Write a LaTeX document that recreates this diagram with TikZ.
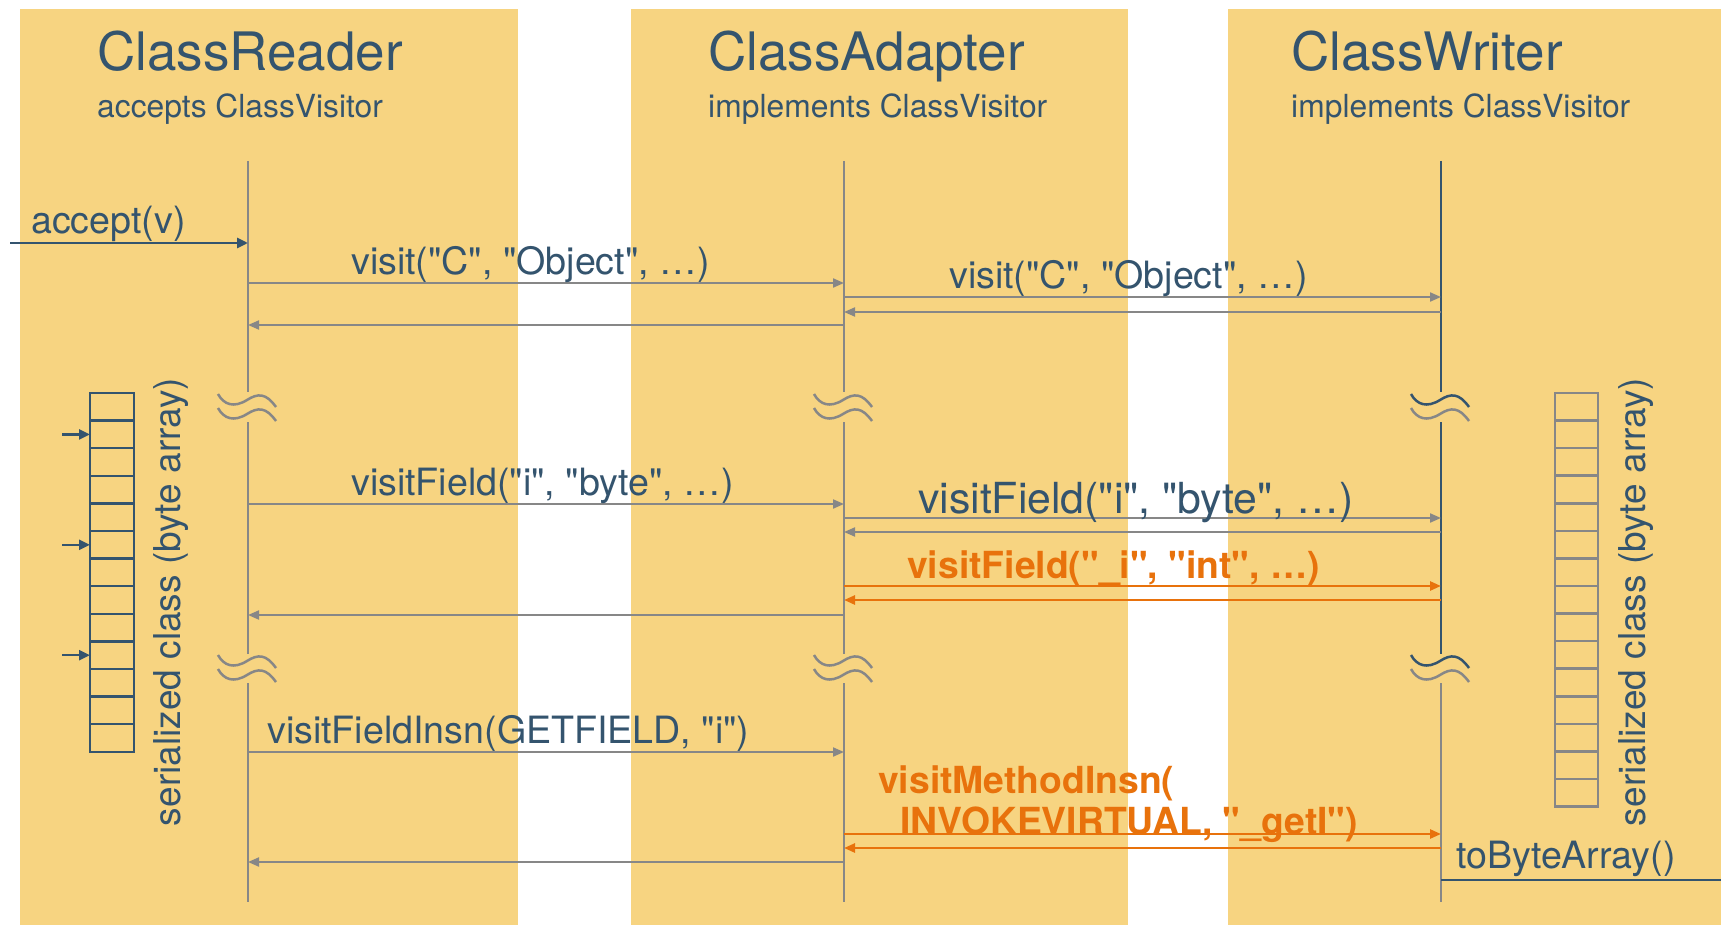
\documentclass[tikz,border=0pt]{standalone}
\usepackage{fontspec}
\setmainfont{TeX Gyre Heros}[Ligatures=TeXOff]
\usetikzlibrary{arrows.meta}
\definecolor{panel}{HTML}{F7D481}
\definecolor{dkblue}{HTML}{34546E}
\definecolor{lgray}{HTML}{878787}
\definecolor{orng}{HTML}{E8720C}
\tikzset{
  panelbox/.style={fill=panel, draw=none},
  life/.style={draw=lgray, line width=2pt},
  lifeblue/.style={draw=dkblue, line width=2.5pt},
  msg/.style={draw=lgray, line width=2pt, -{Triangle[length=11pt,width=9pt]}},
  omsg/.style={draw=orng, line width=2.5pt, -{Triangle[length=11pt,width=9pt]}},
  bmsg/.style={draw=dkblue, line width=2.7pt, -{Triangle[length=11pt,width=10pt]}},
  bline/.style={draw=dkblue, line width=2.7pt},
  ttl/.style={anchor=base west, inner sep=0, text=dkblue, font=\fontsize{53}{60}\selectfont},
  subttl/.style={anchor=base west, inner sep=0, text=dkblue, font=\fontsize{31.8}{38}\selectfont},
  lbl/.style={anchor=base west, inner sep=0, text=dkblue, font=\fontsize{37.6}{44}\selectfont},
  biglbl/.style={anchor=base west, inner sep=0, text=dkblue, font=\fontsize{42.8}{50}\selectfont},
  olbl/.style={anchor=base west, inner sep=0, text=orng, font=\bfseries\fontsize{37.3}{44}\selectfont},
  rlbl/.style={rotate=90, anchor=base, inner sep=0, text=dkblue, font=\fontsize{37}{44}\selectfont},
  bcell/.style={draw=dkblue, line width=2.5pt},
  gcell/.style={draw=lgray, line width=2.5pt},
  parrow/.style={draw=dkblue, line width=2.5pt, -{Triangle[length=11pt,width=10pt]}},
  wave/.style={line width=2.5pt},
  brkgray/.pic={
    \draw[wave, lgray] (-30,-13) .. controls (-24,-2) and (-14,1) .. (-1,-7) .. controls (10,-14) and (18,-14) .. (28,0);
    \draw[wave, lgray] (-30,1) .. controls (-24,12) and (-14,15) .. (-1,7) .. controls (10,0) and (18,0) .. (28,14);
  },
  brkmix/.pic={
    \draw[wave, dkblue] (-30,-13) .. controls (-24,-2) and (-14,1) .. (-1,-7) .. controls (10,-14) and (18,-14) .. (28,0);
    \draw[wave, lgray] (-30,1) .. controls (-24,12) and (-14,15) .. (-1,7) .. controls (10,0) and (18,0) .. (28,14);
  }
}
\begin{document}
\begin{tikzpicture}[x=1pt,y=-1pt]
\useasboundingbox[fill=white] (0,0) rectangle (1721,925);
% panels
\fill[panelbox] (20,9) rectangle (518,925);
\fill[panelbox] (631,9) rectangle (1128,925);
\fill[panelbox] (1228,9) rectangle (1721,925);
% titles
\node (t1) [ttl] at (97,71) {ClassReader};
\node (s1) [subttl] at (97,118) {accepts ClassVisitor};
\node (t2) [ttl] at (708,71) {ClassAdapter};
\node (s2) [subttl] at (708,118) {implements ClassVisitor};
\node (t3) [ttl] at (1291,71) {ClassWriter};
\node (s3) [subttl] at (1291,118) {implements ClassVisitor};
% lifeline coordinates
\foreach \n/\x in {A/248, B/844, C/1441} {
  \coordinate (\n0) at (\x,161);
  \coordinate (\n1) at (\x,392);
  \coordinate (\n2) at (\x,422);
  \coordinate (\n3) at (\x,654);
  \coordinate (\n4) at (\x,683);
  \coordinate (\n5) at (\x,902);
}
\draw[life] (A0) -- (A1); \draw[life] (A2) -- (A3); \draw[life] (A4) -- (A5);
\draw[life] (B0) -- (B1); \draw[life] (B2) -- (B3); \draw[life] (B4) -- (B5);
\draw[lifeblue] (C0) -- (C1); \draw[lifeblue] (C2) -- (C3); \draw[life] (C4) -- (C5);
% breaks
\pic at (248,407) {brkgray};
\pic at (844,407) {brkgray};
\pic at (1441,407) {brkmix};
\pic at (248,668) {brkgray};
\pic at (844,668) {brkgray};
\pic at (1441,668) {brkmix};
% message endpoints
\foreach \n/\y in {a/243, b/283, c/297, d/312, e/325, f/504, g/518, h/532, i/586, j/600, k/615, l/752, m/834, n/848, o/862, p/880} {
  \coordinate (\n A) at (248,\y);
  \coordinate (\n B) at (844,\y);
  \coordinate (\n C) at (1441,\y);
}
\coordinate (acc) at (10,243);
\coordinate (tba) at (1721,880);
% messages
\draw[bmsg] (acc) -- (aA);
\node (la) [lbl] at (31,234) {accept(v)};
\draw[msg] (bA) -- (bB);
\node (lb) [lbl] at (351,275) {visit("C", "Object", …)};
\draw[msg] (cB) -- (cC);
\node (lc) [lbl] at (949,289) {visit("C", "Object", …)};
\draw[msg] (dC) -- (dB);
\draw[msg] (eB) -- (eA);
\draw[msg] (fA) -- (fB);
\node (lf) [lbl] at (351,495) {visitField("i", "byte", …)};
\draw[msg] (gB) -- (gC);
\node (lg) [biglbl] at (918,513) {visitField("i", "byte", …)};
\draw[msg] (hC) -- (hB);
\draw[omsg] (iB) -- (iC);
\node (li) [olbl] at (907,578) {visitField("\_i", "int", …)};
\draw[omsg] (jC) -- (jB);
\draw[msg] (kB) -- (kA);
\draw[msg] (lA) -- (lB);
\node (ll) [lbl] at (267,743) {visitFieldInsn(GETFIELD, "i")};
\node (lm1) [olbl] at (878,793) {visitMethodInsn(};
\node (lm2) [olbl] at (900,834) {INVOKEVIRTUAL, "\_getI")};
\draw[omsg] (mB) -- (mC);
\draw[omsg] (nC) -- (nB);
\draw[msg] (oB) -- (oA);
\draw[bline] (pC) -- (tba);
\node (lp) [lbl] at (1456,868) {toByteArray()};
% left byte array
\foreach \k in {0,...,12} {
  \draw[bcell] (90,{393+27.6*\k}) rectangle (134,{393+27.6*(\k+1)});
}
\foreach \k/\nm in {1/pa, 5/pb, 9/pc} {
  \coordinate (\nm s) at (62,{393+27.6*(\k+0.5)});
  \coordinate (\nm e) at (90,{393+27.6*(\k+0.5)});
  \draw[parrow] (\nm s) -- (\nm e);
}
\node (sl) [rlbl] at (180,602) {serialized class (byte array)};
% right byte array
\foreach \k in {0,...,14} {
  \draw[gcell] (1555,{393+27.57*\k}) rectangle (1598,{393+27.57*(\k+1)});
}
\node (sr) [rlbl] at (1645,602) {serialized class (byte array)};
\end{tikzpicture}
\end{document}
